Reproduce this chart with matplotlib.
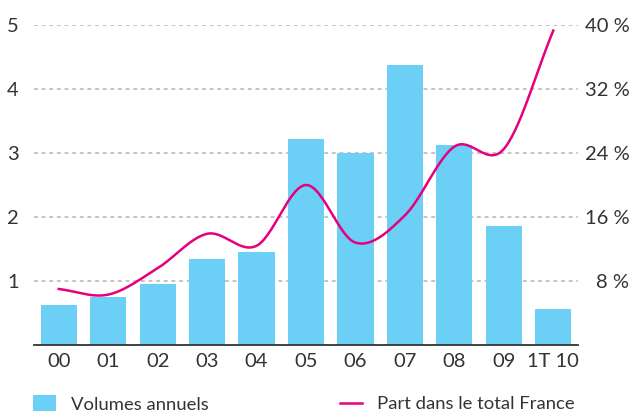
import numpy as np
import matplotlib.pyplot as plt

# Data
years = ["00", "01", "02", "03", "04", "05", "06", "07", "08", "09", "1T 10"]
volumes = [0.62, 0.75, 0.95, 1.34, 1.45, 3.22, 3.0, 4.38, 3.12, 1.86, 0.56]
share_pct = [7.0, 6.3, 9.6, 13.9, 12.4, 20.0, 12.8, 16.2, 24.8, 24.5, 39.3]
left_ticks = [1, 2, 3, 4, 5]
right_ticks = [8, 16, 24, 32, 40]

BLUE = "#6bcff6"
PINK = "#e6007e"
TXT = "#333333"
GRID = "#b4b4b4"

plt.rcParams["font.family"] = ["Lato", "DejaVu Sans"]


def smooth(xs, ys, n=30):
    # Catmull-Rom curve through the data points (for drawing only)
    xs = np.asarray(xs, float)
    ys = np.asarray(ys, float)
    px = np.concatenate([[2 * xs[0] - xs[1]], xs, [2 * xs[-1] - xs[-2]]])
    py = np.concatenate([[2 * ys[0] - ys[1]], ys, [2 * ys[-1] - ys[-2]]])
    out_x, out_y = [], []
    t = np.linspace(0, 1, n, endpoint=False)
    for i in range(1, len(px) - 2):
        for arr, res in ((px, out_x), (py, out_y)):
            p0, p1, p2, p3 = arr[i - 1], arr[i], arr[i + 1], arr[i + 2]
            res.extend(0.5 * (2 * p1 + (-p0 + p2) * t
                              + (2 * p0 - 5 * p1 + 4 * p2 - p3) * t ** 2
                              + (-p0 + 3 * p1 - 3 * p2 + p3) * t ** 3))
    out_x.append(xs[-1])
    out_y.append(ys[-1])
    return np.array(out_x), np.array(out_y)


fig = plt.figure(figsize=(6.32, 4.12), dpi=100)
ax = fig.add_axes([34 / 632, 67 / 412, 544 / 632, 320 / 412])
x = np.arange(len(years))

ax.bar(x, volumes, width=0.73, color=BLUE, zorder=2, label="Volumes annuels")
ax.set_xlim(-0.5, 10.5)
ax.set_ylim(0, 5)
for v in left_ticks:
    ax.axhline(v, color=GRID, lw=1.1, ls=(0, (2.5, 2.5)), zorder=1)

for s in ["top", "right", "left"]:
    ax.spines[s].set_visible(False)
ax.spines["bottom"].set_color(TXT)
ax.spines["bottom"].set_linewidth(1.3)

ax.set_xticks(x)
ax.set_xticklabels(years)
ax.set_yticks(left_ticks)
ax.tick_params(axis="both", length=0, labelsize=14.5, labelcolor=TXT)
ax.tick_params(axis="x", pad=6)
ax.tick_params(axis="y", pad=11)

ax2 = ax.twinx()
ax2.set_ylim(0, 40)
sx, sy = smooth(x, share_pct)
ax2.plot(sx, sy, color=PINK, lw=1.8, zorder=3, label="Part dans le total France")
ax2.set_yticks(right_ticks)
ax2.set_yticklabels([f"{v} %" for v in right_ticks])
ax2.tick_params(axis="y", length=0, labelsize=14.5, labelcolor=TXT, pad=37)
for lab in ax2.get_yticklabels():
    lab.set_horizontalalignment("right")
for s in ax2.spines.values():
    s.set_visible(False)

# legend
h1, l1 = ax.get_legend_handles_labels()
h2, l2 = ax2.get_legend_handles_labels()
fig.legend(h1, l1, loc="center left", bbox_to_anchor=(16 / 632, 8 / 412),
           frameon=False, fontsize=13.3, labelcolor=TXT, handlelength=1.25,
           handleheight=0.95, handletextpad=0.85)
fig.legend(h2, l2, loc="center left", bbox_to_anchor=(323 / 632, 8 / 412),
           frameon=False, fontsize=13.3, labelcolor=TXT, handlelength=1.2,
           handletextpad=0.85)

fig.savefig("out.png", dpi=100)
